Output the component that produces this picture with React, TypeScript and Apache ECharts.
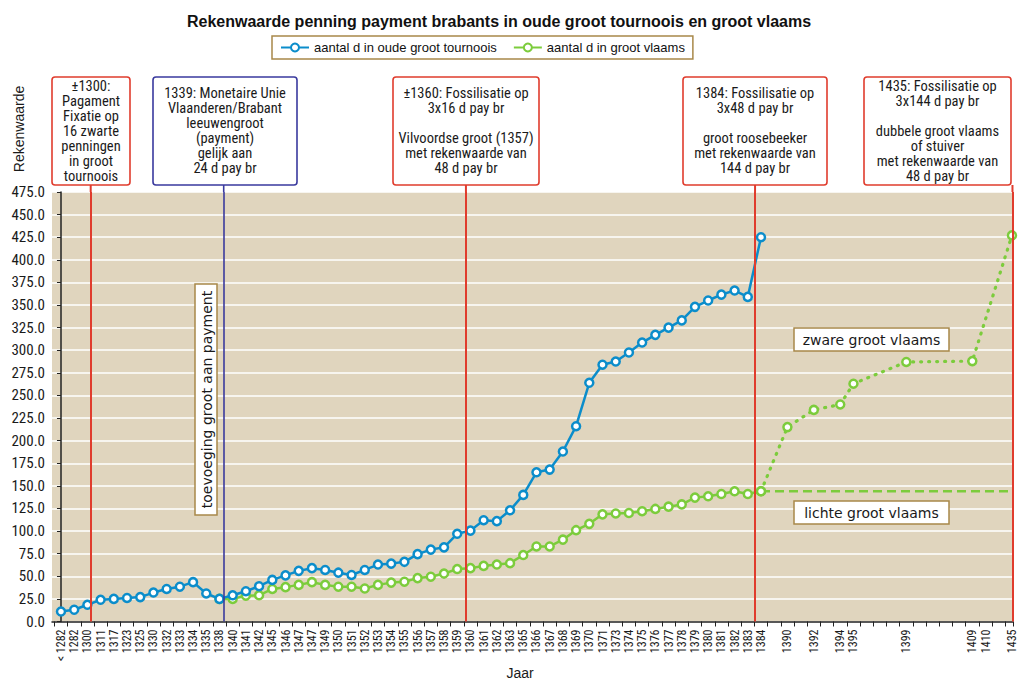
import React, { useEffect, useRef } from "react";
import * as echarts from "echarts";

// ---------- DATA ----------
const categories: string[] = [
  "< 1282", "1282", "1300", "1311", "1317", "1323", "1325", "1330", "1332", "1333",
  "1334", "1335", "1338", "1340", "1341", "1342", "1345", "1346", "1347", "1347",
  "1349", "1350", "1351", "1352", "1353", "1354", "1355", "1356", "1357", "1358",
  "1359", "1360", "1361", "1362", "1363", "1365", "1366", "1367", "1368", "1369",
  "1370", "1371", "1373", "1374", "1375", "1376", "1377", "1378", "1379", "1380",
  "1381", "1382", "1383", "1384", "", "1390", "", "1392", "", "1394",
  "1395", "", "", "", "1399", "", "", "", "", "1409",
  "1410", "", "1435",
];

const oudeGrootTournoois: (number | null)[] = [
  11, 13, 18.5, 24, 25, 26, 27, 32, 36, 38.5,
  43.5, 31, 25, 29, 33.5, 39, 46, 51, 56, 59,
  57, 54, 51.5, 57, 63, 64, 66, 74.5, 79.5, 82,
  97, 100.5, 112, 111, 123, 140, 165, 168, 188, 216,
  264, 284, 287.5, 297.5, 308.5, 317, 325, 333, 348, 355,
  361.5, 366, 359, 425,
];

const grootVlaams: (number | null)[] = [
  null, null, null, null, null, null, null, null, null, null,
  null, null, 25, 25, 28.5, 29, 36, 38, 40.5, 43.5,
  40.5, 38.5, 38.5, 36.5, 40.5, 43, 44, 48, 49.5, 53,
  58, 59, 61.5, 63, 64.5, 73.5, 83, 83, 90.5, 101,
  108, 118.5, 119.5, 120, 122, 124.5, 127, 129.5, 137, 138.5,
  141, 144, 141, 144,
];

const zwareGrootVlaams: (number | null)[] = [
  ...new Array(53).fill(null),
  144, null, 215, null, 234, null, 240, 263, null, null,
  null, 287, null, null, null, null, 288, null, null, 427,
];

const lichteGrootVlaams: (number | null)[] = [
  ...new Array(53).fill(null),
  144, null, null, null, null, null, null, null, null, null,
  null, null, null, null, null, null, null, null, null, 144,
];

// annotation markers, in category-index units of the x axis
const eventLines = [
  { pos: 2.25, kind: "red" },
  { pos: 12.32, kind: "blue" },
  { pos: 30.66, kind: "red" },
  { pos: 52.55, kind: "red" },
  { pos: 72.04, kind: "red" },
];

const eventTexts = [
  "±1300:\nPagament\nFixatie op\n16 zwarte\npenningen\nin groot\ntournoois",
  "1339: Monetaire Unie\nVlaanderen/Brabant\nleeuwengroot\n(payment)\ngelijk aan\n24 d pay br",
  "±1360: Fossilisatie op\n3x16 d pay br\n\nVilvoordse groot (1357)\nmet rekenwaarde van\n48 d pay br",
  "1384: Fossilisatie op\n3x48 d pay br\n\ngroot roosebeeker\nmet rekenwaarde van\n144 d pay br",
  "1435: Fossilisatie op\n3x144 d pay br\n\ndubbele groot vlaams\nof stuiver\nmet rekenwaarde van\n48 d pay br",
];

const SERIES_OUDE = "aantal d in oude groot tournoois";
const SERIES_VLAAMS = "aantal d in groot vlaams";
const TITLE = "Rekenwaarde penning payment brabants in oude groot tournoois en groot vlaams";

// ---------- STYLE / LAYOUT ----------
const NARROW = "'Liberation Sans Narrow', 'Arial Narrow', 'Roboto Condensed', Roboto, sans-serif";
const SANS = "'Liberation Sans', Arial, Helvetica, sans-serif";
const WIDE = "'DejaVu Sans', Verdana, sans-serif";
const BLUE = "#0b8dcb";
const GREEN = "#7ccc3c";
const RED = "#e03c2d";
const NAVY = "#3a3a9e";
const GOLD = "#a8884a";
const PLOT_BG = "#e0d5be";
const TEXT = "#1a1a1a";

const GRID = { left: 52, right: 11, top: 192, bottom: 58.5 };
const X_MIN = -0.68;
const X_MAX = 72.08;

const boxLayout = [
  { x0: 52, x1: 130 },
  { x0: 153, x1: 297 },
  { x0: 393, x1: 539 },
  { x0: 683, x1: 827 },
  { x0: 864, x1: 1011 },
];
const BOX_TOP = 77;
const BOX_BOTTOM = 185;

const toPairs = (arr: (number | null)[]) =>
  arr.map((v, i) => (v == null ? null : [i, v])).filter((p) => p !== null) as number[][];

export default function App() {
  const ref = useRef<HTMLDivElement>(null);

  useEffect(() => {
    document.body.style.margin = "0";
    const chart = echarts.init(ref.current!, null, { renderer: "svg" });

    const labelValues = categories.map((_, i) => i);
    const tickValues = [...categories.map((_, i) => i - 0.5), X_MAX];

    const markerStyle = (c: string) => ({ color: "#ffffff", borderColor: c, borderWidth: 2.5 });

    const option: any = {
      animation: false,
      title: {
        text: TITLE,
        left: 182,
        top: 8,
        textStyle: { fontFamily: SANS, fontSize: 16, fontWeight: "bold", color: "#111" },
      },
      legend: {
        left: 272,
        top: 36,
        data: [SERIES_OUDE, SERIES_VLAAMS],
        borderColor: GOLD,
        borderWidth: 1.5,
        borderRadius: 0,
        padding: [5, 8, 5, 8],
        itemWidth: 28,
        itemHeight: 10,
        itemGap: 16,
        textStyle: { fontFamily: SANS, fontSize: 13, color: "#111" },
      },
      grid: {
        ...GRID,
        show: true,
        backgroundColor: PLOT_BG,
        borderWidth: 0,
      },
      xAxis: {
        type: "value",
        min: X_MIN,
        max: X_MAX,
        axisLine: { show: true, onZero: false, lineStyle: { color: "#222", width: 1.5 } },
        axisTick: { show: true, customValues: tickValues, length: 5, lineStyle: { color: "#222", width: 1 } },
        axisLabel: {
          customValues: labelValues,
          formatter: (v: number) => categories[Math.round(v)] ?? "",
          rotate: 90,
          margin: 8,
          fontFamily: NARROW,
          fontSize: 12,
          color: TEXT,
        },
        splitLine: { show: false },
      },
      yAxis: {
        type: "value",
        min: 0,
        max: 475,
        interval: 25,
        axisLine: { show: true, lineStyle: { color: "#222", width: 1.5 } },
        axisTick: { show: true, length: 4, lineStyle: { color: "#222" } },
        axisLabel: {
          formatter: (v: number) => v.toFixed(1),
          fontFamily: NARROW,
          fontSize: 15,
          color: TEXT,
          margin: 7,
        },
        splitLine: { show: true, lineStyle: { color: "#ffffff", width: 1.6 } },
      },
      series: [
        {
          name: "events",
          type: "line",
          data: [],
          silent: true,
          z: 1,
          markLine: {
            silent: true,
            symbol: ["none", "none"],
            label: { show: false },
            data: eventLines.map((l) => ({
              xAxis: l.pos,
              lineStyle: {
                color: l.kind === "red" ? RED : NAVY,
                width: l.kind === "red" ? 2 : 1.6,
                type: "solid",
              },
            })),
          },
        },
        {
          name: SERIES_VLAAMS,
          type: "line",
          z: 2,
          data: toPairs(grootVlaams),
          symbol: "circle",
          symbolSize: 8,
          itemStyle: markerStyle(GREEN),
          lineStyle: { color: GREEN, width: 2.5 },
        },
        {
          name: "zware groot vlaams",
          type: "line",
          z: 2,
          data: toPairs(zwareGrootVlaams),
          connectNulls: true,
          symbol: "circle",
          symbolSize: 8,
          itemStyle: markerStyle(GREEN),
          lineStyle: { color: GREEN, width: 3.2, type: [1, 7], cap: "round" },
        },
        {
          name: "lichte groot vlaams",
          type: "line",
          z: 1.5,
          data: toPairs(lichteGrootVlaams),
          connectNulls: true,
          showSymbol: false,
          symbol: "none",
          lineStyle: { color: GREEN, width: 2.5, type: [9, 5] },
        },
        {
          name: SERIES_OUDE,
          type: "line",
          z: 3,
          data: toPairs(oudeGrootTournoois),
          symbol: "circle",
          symbolSize: 8,
          itemStyle: markerStyle(BLUE),
          lineStyle: { color: BLUE, width: 2.5 },
        },
      ],
    };

    chart.setOption(option);

    const graphics: any[] = [];
    eventLines.forEach((l, i) => {
      const px = chart.convertToPixel({ xAxisIndex: 0 }, l.pos) as number;
      const color = l.kind === "red" ? RED : NAVY;
      const b = boxLayout[i];
      graphics.push({
        type: "rect",
        shape: { x: b.x0, y: BOX_TOP, width: b.x1 - b.x0, height: BOX_BOTTOM - BOX_TOP, r: 3 },
        style: { fill: "#ffffff", stroke: color, lineWidth: 1.6 },
        z: 10,
      });
      graphics.push({
        type: "text",
        x: (b.x0 + b.x1) / 2,
        y: (BOX_TOP + BOX_BOTTOM) / 2,
        style: {
          text: eventTexts[i],
          fontFamily: NARROW,
          fontSize: 14.5,
          lineHeight: 15,
          align: "center",
          verticalAlign: "middle",
          fill: TEXT,
        },
        z: 11,
      });
      graphics.push({
        type: "line",
        shape: { x1: px, y1: BOX_BOTTOM, x2: px, y2: GRID.top },
        style: { stroke: color, lineWidth: l.kind === "red" ? 2 : 1.6 },
        z: 11,
      });
    });

    // rotated side note
    graphics.push({
      type: "rect",
      shape: { x: 195, y: 284, width: 22, height: 231 },
      style: { fill: "#ffffff", stroke: GOLD, lineWidth: 1.5 },
      z: 10,
    });
    graphics.push({
      type: "text",
      x: 206.5,
      y: 399.5,
      rotation: Math.PI / 2,
      style: {
        text: "toevoeging groot aan payment",
        fontFamily: WIDE,
        fontSize: 14,
        align: "center",
        verticalAlign: "middle",
        fill: TEXT,
      },
      z: 11,
    });

    // series notes
    [
      { text: "zware groot vlaams", y: 328 },
      { text: "lichte groot vlaams", y: 501 },
    ].forEach((n) => {
      graphics.push({
        type: "rect",
        shape: { x: 794, y: n.y, width: 155, height: 23 },
        style: { fill: "#ffffff", stroke: GOLD, lineWidth: 1.5 },
        z: 10,
      });
      graphics.push({
        type: "text",
        x: 871.5,
        y: n.y + 11.5,
        style: {
          text: n.text,
          fontFamily: WIDE,
          fontSize: 14,
          align: "center",
          verticalAlign: "middle",
          fill: TEXT,
        },
        z: 11,
      });
    });

    // axis names
    graphics.push({
      type: "text",
      x: 19,
      y: 129,
      rotation: Math.PI / 2,
      style: {
        text: "Rekenwaarde",
        fontFamily: SANS,
        fontSize: 14,
        align: "center",
        verticalAlign: "middle",
        fill: TEXT,
      },
    });
    graphics.push({
      type: "text",
      x: 520,
      y: 673,
      style: {
        text: "Jaar",
        fontFamily: SANS,
        fontSize: 14,
        align: "center",
        verticalAlign: "middle",
        fill: TEXT,
      },
    });

    chart.setOption({ graphic: graphics });

    return () => chart.dispose();
  }, []);

  return <div ref={ref} style={{ width: 1024, height: 680 }} />;
}
